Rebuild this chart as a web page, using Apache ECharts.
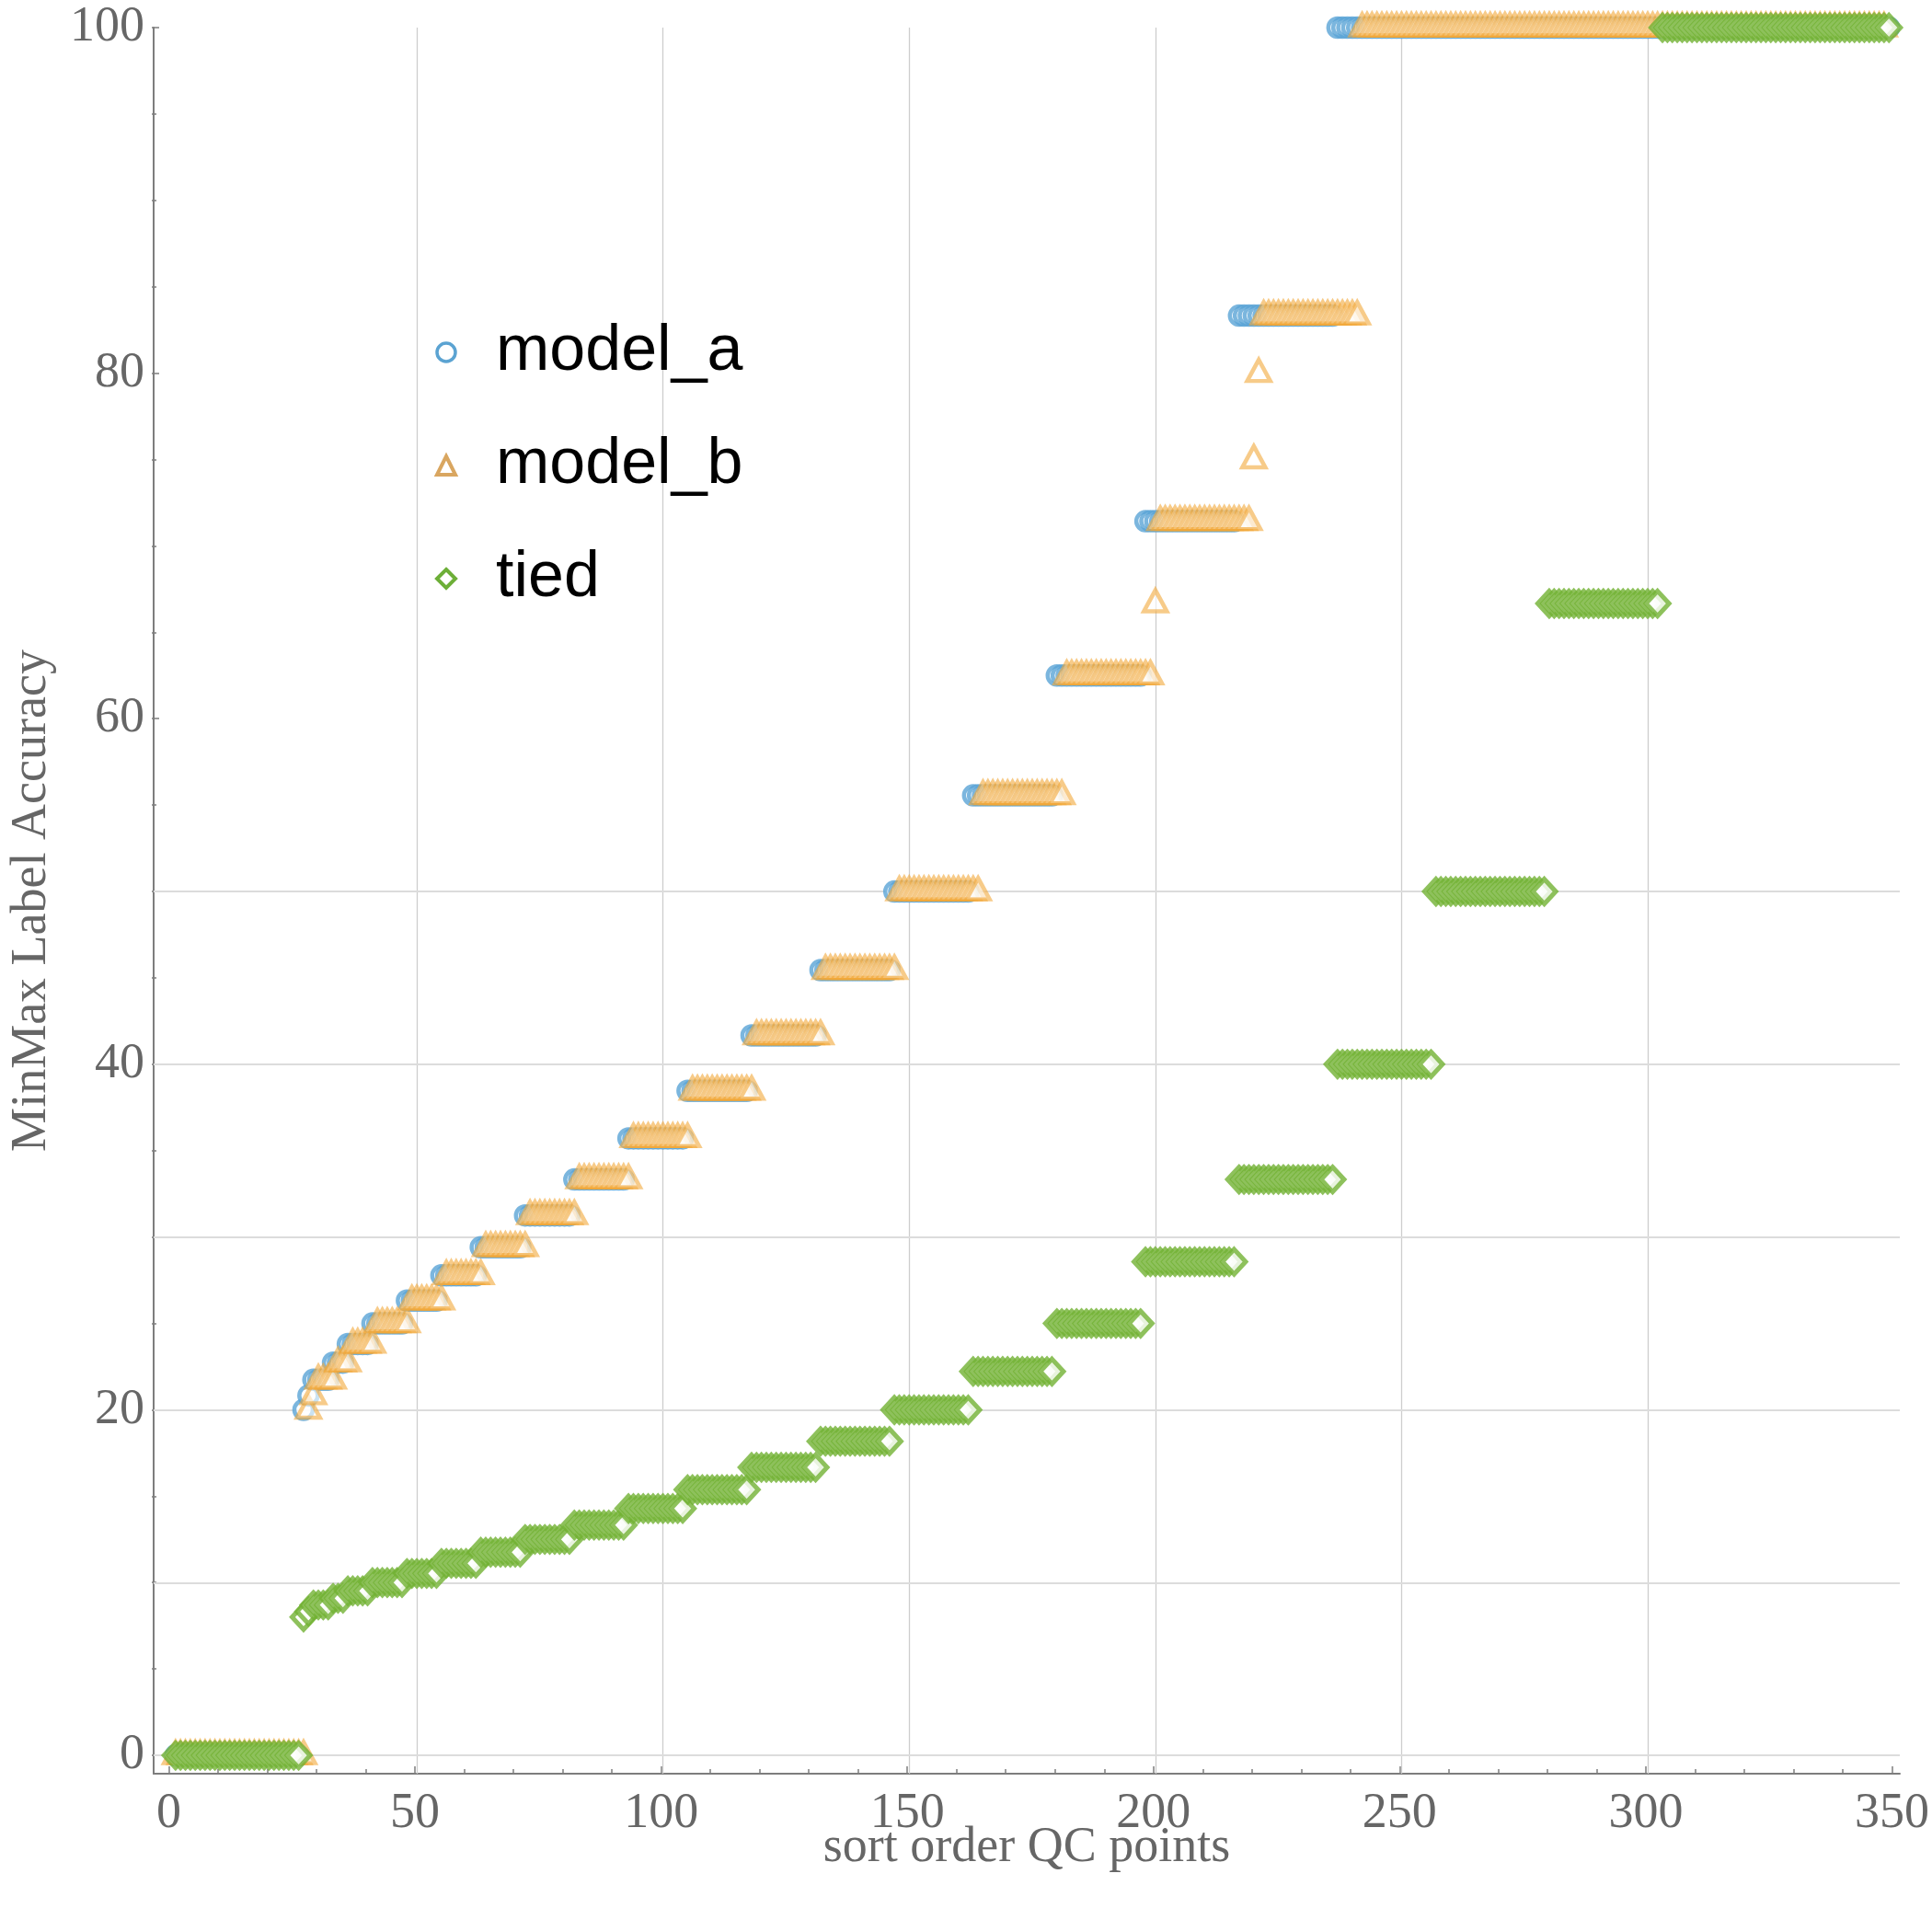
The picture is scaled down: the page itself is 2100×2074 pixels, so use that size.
<!DOCTYPE html>
<html>
<head>
<meta charset="utf-8">
<script src="https://cdn.jsdelivr.net/npm/echarts@6/dist/echarts.min.js"></script>
<style>
html,body{margin:0;padding:0;background:#ffffff;}
#chart{width:2100px;height:2074px;}
</style>
</head>
<body>
<div id="chart"></div>
<script>
// ---- data: runs of equal accuracy in sort order [first index, last index, value] ----
const seriesNames = ['model_a', 'model_b', 'tied'];
const modelARuns = [
  [1, 26, 0], [27, 27, 20], [28, 28, 20.83], [29, 32, 21.74], [33, 35, 22.73],
  [36, 40, 23.81], [41, 47, 25], [48, 54, 26.32], [55, 62, 27.78], [63, 71, 29.41],
  [72, 81, 31.25], [82, 92, 33.33], [93, 104, 35.71], [105, 117, 38.46], [118, 131, 41.67],
  [132, 146, 45.45], [147, 162, 50], [163, 179, 55.56], [180, 197, 62.5], [198, 216, 71.43],
  [217, 236, 83.33], [237, 349, 100]
];
const modelBRuns = [
  [1, 27, 0], [28, 28, 20], [29, 29, 20.83], [30, 33, 21.74], [34, 36, 22.73],
  [37, 41, 23.81], [42, 48, 25], [49, 55, 26.32], [56, 63, 27.78], [64, 72, 29.41],
  [73, 82, 31.25], [83, 93, 33.33], [94, 105, 35.71], [106, 118, 38.46], [119, 132, 41.67],
  [133, 147, 45.45], [148, 164, 50], [165, 181, 55.56], [182, 199, 62.5], [200, 200, 66.67],
  [201, 219, 71.43], [220, 220, 75], [221, 221, 80], [222, 241, 83.33], [242, 348, 100]
];
const tiedRuns = [
  [1, 26, 0], [27, 27, 8], [28, 28, 8.33], [29, 32, 8.7], [33, 35, 9.09],
  [36, 40, 9.52], [41, 47, 10], [48, 54, 10.53], [55, 62, 11.11], [63, 71, 11.76],
  [72, 81, 12.5], [82, 92, 13.33], [93, 104, 14.29], [105, 117, 15.38], [118, 131, 16.67],
  [132, 146, 18.18], [147, 162, 20], [163, 179, 22.22], [180, 197, 25], [198, 216, 28.57],
  [217, 236, 33.33], [237, 256, 40], [257, 279, 50], [280, 302, 66.67], [303, 349, 100]
];
const xTickLabels = [0, 50, 100, 150, 200, 250, 300, 350];
const yTickLabels = [0, 20, 40, 60, 80, 100];
const xGridValues = [50, 100, 150, 200, 250, 300];
const yGridValues = [0, 10, 20, 30, 40, 50];

function expandRuns(runs) {
  const pts = [];
  runs.forEach(function (r) {
    for (let x = r[0]; x <= r[1]; x++) pts.push([x, r[2]]);
  });
  return pts;
}

const AXIS_GREY = '#7d7d7d';
const LABEL_GREY = '#666666';
const SERIF = '"Liberation Serif", "Times New Roman", serif';
const SANS = '"Liberation Sans", Arial, sans-serif';
const COL_A = '#5aa4d6';
const COL_B = '#f2a93b';
const COL_T = '#72b133';

const chart = echarts.init(document.getElementById('chart'), null, {renderer: 'canvas'});

const option = {
  animation: false,
  backgroundColor: '#ffffff',
  grid: [
    {left: 165, right: 35, top: 30, bottom: 146},     // data area
    {left: 183.5, right: 41.5, top: 30, bottom: 146}, // x ticks / labels
    {left: 165, right: 35, top: 30, bottom: 166}      // y ticks / labels
  ],
  xAxis: [
    {
      gridIndex: 0, type: 'value', min: -3.45, max: 351.2,
      axisLine: {show: true, onZero: false, lineStyle: {color: AXIS_GREY, width: 2}},
      axisTick: {show: false}, axisLabel: {show: false}, splitLine: {show: false},
      name: 'sort order QC points', nameLocation: 'middle', nameGap: 54,
      nameTextStyle: {fontFamily: SERIF, fontSize: 54, color: LABEL_GREY}
    },
    {
      gridIndex: 1, type: 'value',
      min: xTickLabels[0], max: xTickLabels[xTickLabels.length - 1],
      interval: xTickLabels[1] - xTickLabels[0],
      axisLine: {show: false, onZero: false},
      axisTick: {show: true, inside: true, length: 8, lineStyle: {color: AXIS_GREY, width: 1.5}},
      minorTick: {show: true, splitNumber: 5, length: 5, lineStyle: {color: AXIS_GREY, width: 1.5}},
      axisLabel: {margin: 17, fontFamily: SERIF, fontSize: 54, color: LABEL_GREY},
      splitLine: {show: false}
    },
    {gridIndex: 2, type: 'value', min: 0, max: 1, show: false}
  ],
  yAxis: [
    {
      gridIndex: 0, type: 'value', min: -1.06, max: 100,
      axisLine: {show: true, onZero: false, lineStyle: {color: AXIS_GREY, width: 2}},
      axisTick: {show: false}, axisLabel: {show: false}, splitLine: {show: false},
      name: 'MinMax Label Accuracy', nameLocation: 'middle', nameGap: 105,
      nameTextStyle: {fontFamily: SERIF, fontSize: 54, color: LABEL_GREY}
    },
    {gridIndex: 1, type: 'value', min: 0, max: 1, show: false},
    {
      gridIndex: 2, type: 'value',
      min: yTickLabels[0], max: yTickLabels[yTickLabels.length - 1],
      interval: yTickLabels[1] - yTickLabels[0],
      axisLine: {show: false, onZero: false},
      axisTick: {show: true, inside: true, length: 8, lineStyle: {color: AXIS_GREY, width: 1.5}},
      minorTick: {show: true, splitNumber: 4, length: 5, lineStyle: {color: AXIS_GREY, width: 1.5}},
      axisLabel: {margin: 8, fontFamily: SERIF, fontSize: 54, color: LABEL_GREY},
      splitLine: {show: false}
    }
  ],
  legend: {
    orient: 'vertical', left: 473, top: 343, padding: 0,
    itemWidth: 20, itemHeight: 20, itemGap: 43,
    symbolKeepAspect: true,
    selectedMode: false,
    textStyle: {fontFamily: SANS, fontSize: 70, color: '#000000', lineHeight: 80, padding: [0, 0, 0, 39]},
    data: [
      {name: seriesNames[0], icon: 'circle', itemStyle: {color: '#ffffff', borderColor: '#5ba3d2', borderWidth: 3.5, opacity: 1}},
      {name: seriesNames[1], icon: 'triangle', itemStyle: {color: '#ffffff', borderColor: '#d9a660', borderWidth: 4, opacity: 1}},
      {name: seriesNames[2], icon: 'diamond', itemStyle: {color: '#ffffff', borderColor: '#6daf38', borderWidth: 4, opacity: 1}}
    ]
  },
  series: [
    {
      type: 'scatter', xAxisIndex: 0, yAxisIndex: 0, data: [[0, 0]], z: 1,
      symbolSize: 0, itemStyle: {opacity: 0}, silent: true,
      markLine: {
        silent: true, symbol: ['none', 'none'], z: 1, animation: false,
        label: {show: false},
        emphasis: {disabled: true},
        data: xGridValues.map(function (v) {
          return {xAxis: v, lineStyle: {color: '#cdcdcd', width: 1.3, type: 'solid'}};
        }).concat(yGridValues.map(function (v) {
          return {yAxis: v, lineStyle: {color: '#dcdcdc', width: 1.8, type: 'solid'}};
        }))
      }
    },
    {
      name: seriesNames[0], type: 'scatter', xAxisIndex: 0, yAxisIndex: 0, z: 2,
      data: expandRuns(modelARuns), symbol: 'circle', symbolSize: 20,
      itemStyle: {color: '#ffffff', borderColor: COL_A, borderWidth: 4.5},
      emphasis: {disabled: true}
    },
    {
      name: seriesNames[1], type: 'scatter', xAxisIndex: 0, yAxisIndex: 0, z: 3,
      data: expandRuns(modelBRuns), symbol: 'triangle', symbolSize: [25, 23], symbolOffset: [0, -3],
      itemStyle: {color: '#ffffff', borderColor: COL_B, borderWidth: 4.5, opacity: 0.6},
      emphasis: {disabled: true}
    },
    {
      name: seriesNames[2], type: 'scatter', xAxisIndex: 0, yAxisIndex: 0, z: 4,
      data: expandRuns(tiedRuns), symbol: 'diamond', symbolSize: [25, 27],
      itemStyle: {color: '#ffffff', borderColor: COL_T, borderWidth: 5},
      emphasis: {disabled: true}
    }
  ]
};
chart.setOption(option);
</script>
</body>
</html>
